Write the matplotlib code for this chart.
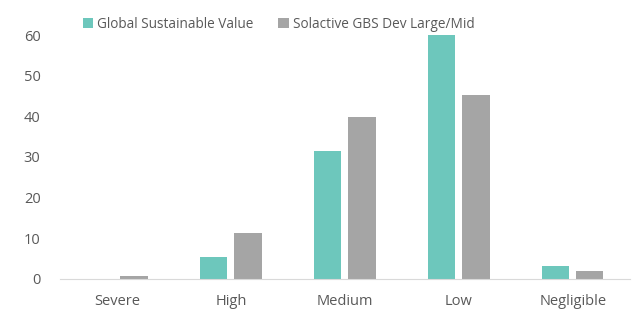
import matplotlib.pyplot as plt
import numpy as np

categories = ['Severe', 'High', 'Medium', 'Low', 'Negligible']
gsv = [0.0, 5.4, 31.4, 60.0, 3.2]
solactive = [0.7, 11.2, 39.9, 45.2, 2.0]
series_names = ['Global Sustainable Value', 'Solactive GBS Dev Large/Mid']

plt.rcParams['font.family'] = ['Open Sans', 'DejaVu Sans']
txt = '#595959'

fig = plt.figure(figsize=(6.38, 3.11), dpi=100)
ax = fig.add_axes([0.094, 0.104, 0.893, 0.783])

x = np.arange(len(categories))
w = 0.24
ax.bar(x - w / 2 - 0.03, gsv, w, color='#6DC7BC', label=series_names[0])
ax.bar(x + w / 2 + 0.03, solactive, w, color='#A5A5A5', label=series_names[1])

ax.set_xlim(-0.5, len(categories) - 0.5)
ax.set_ylim(0, 60)
ax.set_yticks(range(0, 61, 10))
ax.set_xticks(x)
ax.set_xticklabels(categories)
ax.tick_params(axis='both', length=0, colors=txt, labelsize=10.5)
ax.tick_params(axis='x', pad=11)
ax.tick_params(axis='y', pad=14)
for s in ['top', 'right', 'left']:
    ax.spines[s].set_visible(False)
ax.spines['bottom'].set_color('#D9D9D9')
ax.spines['bottom'].set_clip_on(False)

leg = fig.legend(loc='upper center', bbox_to_anchor=(0.437, 0.985), ncol=2, frameon=False,
                 fontsize=9.8, handlelength=0.75, handleheight=0.75, handletextpad=0.3,
                 columnspacing=1.8, labelcolor=txt)

plt.savefig('out.png', dpi=100)
plt.close()
